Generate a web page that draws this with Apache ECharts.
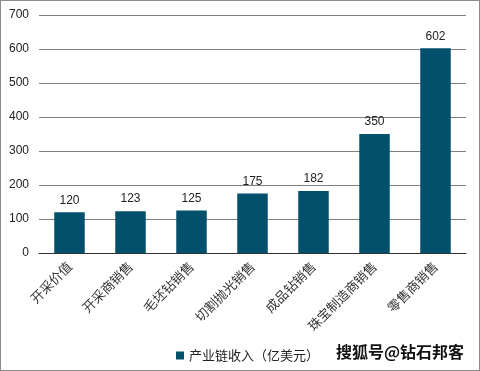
<!DOCTYPE html>
<html><head><meta charset="utf-8">
<script src="https://cdn.jsdelivr.net/npm/echarts@6/dist/echarts.min.js"></script>
<style>html,body{margin:0;padding:0;background:#fff}#c{width:480px;height:371px;box-sizing:border-box;border:1px solid #8c8c8c}</style>
</head><body><div id="c"></div>
<script>
const categories = ['开采价值','开采商销售','毛坯钻销售','切割抛光销售','成品钻销售','珠宝制造商销售','零售商销售'];
const values = [120,123,125,175,182,350,602];
const seriesName = '产业链收入（亿美元）';
const watermark = '搜狐号@钻石邦客';

const chart = echarts.init(document.getElementById('c'), null, {renderer:'canvas'});
chart.setOption({
  animation:false,
  textStyle:{fontFamily:'Liberation Sans, Arial, Noto Sans CJK SC'},
  grid:{left:38,right:13,top:14,bottom:117,containLabel:false},
  legend:{data:[seriesName],left:170,top:343,itemWidth:8,itemHeight:8,icon:'rect',itemGap:6,
    textStyle:{fontSize:13,color:'#222',fontFamily:'Noto Sans CJK SC'}},
  graphic:[{type:'text',right:14,top:342,style:{text:watermark,fontSize:16,fontWeight:'bold',
    fill:'#111',stroke:'#fff',lineWidth:2,fontFamily:'Noto Sans CJK SC'}}],
  xAxis:{type:'category',data:categories,
    axisLine:{lineStyle:{color:'#333',width:1}},axisTick:{show:false},
    axisLabel:{rotate:45,fontSize:13,color:'#333',margin:11,interval:0,fontFamily:'Noto Sans CJK SC'}},
  yAxis:{type:'value',min:0,max:700,interval:100,
    axisLine:{show:false},axisTick:{show:false},
    axisLabel:{fontSize:12,color:'#222',margin:10},
    splitLine:{lineStyle:{color:'#7f7f7f',width:1}}},
  series:[{name:seriesName,type:'bar',data:values,barWidth:'50%',
    itemStyle:{color:'#02506b'},
    label:{show:true,position:'top',fontSize:12,color:'#222',distance:6}}]
});
</script></body></html>
